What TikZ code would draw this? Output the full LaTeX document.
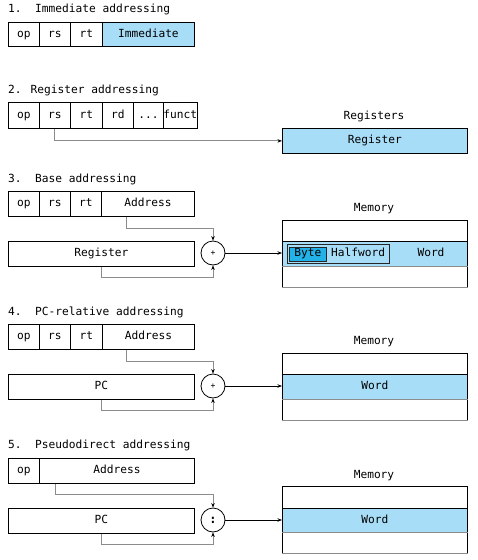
\documentclass[tikz,border=0pt]{standalone}
\usepackage{fontspec}
\setmainfont{DejaVu Sans Mono}
\usetikzlibrary{arrows.meta}
\definecolor{lblue}{HTML}{A8DDF7}
\definecolor{bblue}{HTML}{22B2E8}
\definecolor{lgray}{HTML}{8C8C8C}
\tikzset{
  txt/.style={font=\fontsize{11.2}{13}\selectfont},
  fld/.style={draw, line width=0.8pt, inner sep=0pt, anchor=north west, txt, text height=8pt, text depth=2pt},
  ttl/.style={anchor=west, inner sep=0pt, txt},
  lbl/.style={inner sep=0pt, txt, text height=8pt, text depth=2pt},
  adder/.style={draw, circle, line width=0.8pt, minimum size=24pt, inner sep=0pt, font=\fontsize{8}{9}\selectfont},
  gl/.style={draw=lgray, line width=0.9pt, -{Stealth[length=4.5pt,width=3.5pt,color=black]}},
  bl/.style={draw=black, line width=0.8pt, -{Stealth[length=4.5pt,width=3.5pt]}},
  grayline/.style={draw=lgray, line width=0.9pt}
}
\begin{document}
\begin{tikzpicture}[x=1pt,y=-1pt]
\useasboundingbox (0,0) rectangle (477,560);
% ---------- 1
\node[ttl] (t1) at (8,9) {1.\ \ Immediate addressing};
\node[fld, minimum width=31pt, minimum height=24pt] (a1op) at (8,22) {op};
\node[fld, minimum width=31pt, minimum height=24pt] (a1rs) at (39,22) {rs};
\node[fld, minimum width=32pt, minimum height=24pt] (a1rt) at (70,22) {rt};
\node[fld, minimum width=92pt, minimum height=24pt, fill=lblue] (a1im) at (102,22) {Immediate};
% ---------- 2
\node[ttl] (t2) at (8,90) {2. Register addressing};
\node[fld, minimum width=31pt, minimum height=26pt] (a2op) at (8,102) {op};
\node[fld, minimum width=31pt, minimum height=26pt] (a2rs) at (39,102) {rs};
\node[fld, minimum width=32pt, minimum height=26pt] (a2rt) at (70,102) {rt};
\node[fld, minimum width=31pt, minimum height=26pt] (a2rd) at (102,102) {rd};
\node[fld, minimum width=30pt, minimum height=26pt] (a2dots) at (133,102) {...};
\node[fld, minimum width=31pt, minimum height=26pt] (a2fn) at (163,102) {funct};
\node[lbl] (regslbl) at (374,116) {Registers};
\node[fld, minimum width=185pt, minimum height=25pt, fill=lblue] (regs) at (282,128) {Register};
\draw[gl] (a2rs.south) |- (regs.west);
% ---------- 3
\node[ttl] (t3) at (8,179) {3.\ \ Base addressing};
\node[fld, minimum width=31pt, minimum height=25pt] (a3op) at (8,191) {op};
\node[fld, minimum width=31pt, minimum height=25pt] (a3rs) at (39,191) {rs};
\node[fld, minimum width=31pt, minimum height=25pt] (a3rt) at (70,191) {rt};
\node[fld, minimum width=93pt, minimum height=25pt] (a3ad) at (101,191) {Address};
\node[fld, minimum width=186pt, minimum height=25pt] (a3reg) at (8,241) {Register};
\node[adder] (c3) at (213,253) {+};
\node[lbl] (mem3lbl) at (374,208) {Memory};
\node[fld, minimum width=185pt, minimum height=21pt] (m3top) at (282,220) {};
\node[fld, minimum width=185pt, minimum height=25pt, fill=lblue] (m3w) at (282,241) {};
\node[fld, minimum width=185pt, minimum height=21pt] (m3bot) at (282,266) {};
\draw[grayline] (m3bot.north west) -- (m3bot.north east);
\draw[grayline] (m3bot.south west) -- (m3bot.south east);
\node[fld, minimum width=102pt, minimum height=19pt, draw=black!85, fill=lblue] (m3half) at (287,244) {};
\node[fld, minimum width=37pt, minimum height=14pt, draw=black!85, fill=bblue] (m3byte) at (289,246.5) {Byte};
\node[lbl, anchor=west] (m3hw) at (331,253.5) {Halfword};
\node[lbl] (m3word) at (431,253.5) {Word};
\draw[gl] ([xshift=25pt]a3ad.south west) |- ([yshift=12pt]c3.north) -- (c3.north);
\draw[gl] (a3reg.south) |- ([yshift=-12pt]c3.south) -- (c3.south);
\draw[bl] (c3.east) -- (c3.east -| m3w.west);
% ---------- 4
\node[ttl] (t4) at (8,312) {4.\ \ PC-relative addressing};
\node[fld, minimum width=31pt, minimum height=25pt] (a4op) at (8,324) {op};
\node[fld, minimum width=31pt, minimum height=25pt] (a4rs) at (39,324) {rs};
\node[fld, minimum width=32pt, minimum height=25pt] (a4rt) at (70,324) {rt};
\node[fld, minimum width=92pt, minimum height=25pt] (a4ad) at (102,324) {Address};
\node[fld, minimum width=186pt, minimum height=25pt] (a4pc) at (8,374) {PC};
\node[adder] (c4) at (213,386) {+};
\node[lbl] (mem4lbl) at (374,341) {Memory};
\node[fld, minimum width=185pt, minimum height=21pt] (m4top) at (282,353) {};
\node[fld, minimum width=185pt, minimum height=25pt, fill=lblue] (m4w) at (282,374) {Word};
\node[fld, minimum width=185pt, minimum height=21pt] (m4bot) at (282,399) {};
\draw[grayline] (m4bot.north west) -- (m4bot.north east);
\draw[grayline] (m4bot.south west) -- (m4bot.south east);
\draw[gl] ([xshift=24pt]a4ad.south west) |- ([yshift=12pt]c4.north) -- (c4.north);
\draw[gl] (a4pc.south) |- ([yshift=-12pt]c4.south) -- (c4.south);
\draw[bl] (c4.east) -- (c4.east -| m4w.west);
% ---------- 5
\node[ttl] (t5) at (8,445) {5.\ \ Pseudodirect addressing};
\node[fld, minimum width=31pt, minimum height=25pt] (a5op) at (8,458) {op};
\node[fld, minimum width=155pt, minimum height=25pt] (a5ad) at (39,458) {Address};
\node[fld, minimum width=186pt, minimum height=25pt] (a5pc) at (8,508) {PC};
\node[adder, font=\fontsize{12}{12}\selectfont\bfseries] (c5) at (213,520) {:};
\node[lbl] (mem5lbl) at (374,475) {Memory};
\node[fld, minimum width=185pt, minimum height=22pt] (m5top) at (282,486) {};
\node[fld, minimum width=185pt, minimum height=24pt, fill=lblue] (m5w) at (282,508) {Word};
\node[fld, minimum width=185pt, minimum height=21pt] (m5bot) at (282,532) {};
\draw[grayline] (m5bot.north west) -- (m5bot.north east);
\draw[grayline] (m5bot.south west) -- (m5bot.south east);
\draw[gl] ([xshift=16pt]a5ad.south west) |- ([yshift=13pt]c5.north) -- (c5.north);
\draw[gl] (a5pc.south) |- ([yshift=-12pt]c5.south) -- (c5.south);
\draw[bl] (c5.east) -- (c5.east -| m5w.west);
\end{tikzpicture}
\end{document}
